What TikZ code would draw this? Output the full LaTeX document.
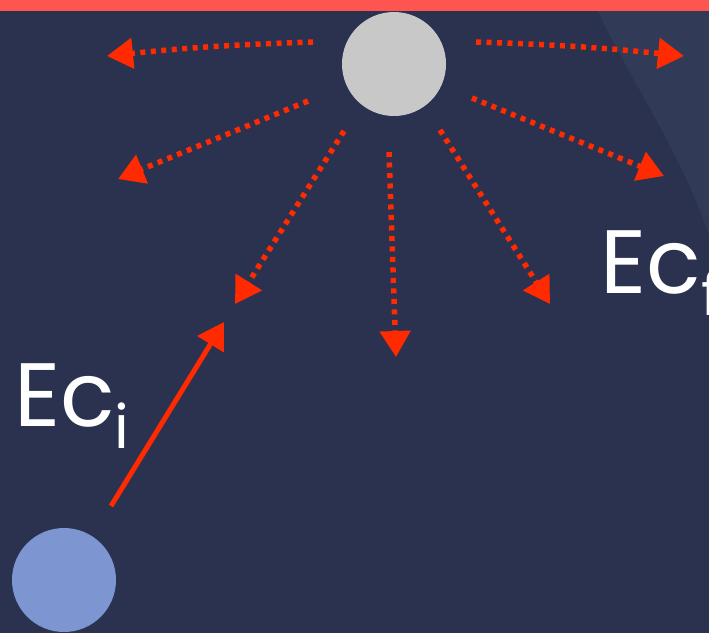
\documentclass[tikz,border=0pt]{standalone}
\usepackage{fontspec}
\setmainfont{Poppins}
\usetikzlibrary{arrows.meta}
\definecolor{bg}{HTML}{2A3250}
\definecolor{bglight}{HTML}{313A57}
\definecolor{barred}{HTML}{FF5550}
\definecolor{arrred}{HTML}{FF2A00}
\definecolor{graydisk}{HTML}{C8C8C8}
\definecolor{bluedisk}{HTML}{7D95D1}
\tikzset{
  disk/.style={circle,minimum size=104pt,inner sep=0pt,draw=none},
  dotarrow/.style={draw=arrred,line width=5.5pt,dash pattern=on 5pt off 5.5pt,
    -{Triangle[length=26pt,width=30pt,fill=arrred]}},
  solidarrow/.style={draw=arrred,line width=5pt,
    -{Triangle[length=26pt,width=30pt,fill=arrred]}},
  label/.style={text=white,font=\fontsize{90}{90}\selectfont,inner sep=0pt,anchor=base west}
}
\begin{document}
\begin{tikzpicture}[x=1pt,y=-1pt]
\useasboundingbox (0,0) rectangle (709,633);
\fill[bg] (0,0) rectangle (709,633);
\fill[bglight] (598,11) .. controls (630,80) and (680,150) .. (709,235) -- (709,11) -- cycle;
\fill[barred] (0,0) rectangle (709,11);
\node[disk,fill=graydisk] (g) at (394,64) {};
\node[disk,fill=bluedisk] (b) at (64,580) {};
% dotted arrows
\coordinate (s1) at (313,42); \coordinate (t1) at (107,56);
\coordinate (s2) at (476,42); \coordinate (t2) at (684,56);
\coordinate (s3) at (308,101); \coordinate (t3) at (118,179);
\coordinate (s4) at (472,98); \coordinate (t4) at (664,176);
\coordinate (s5) at (344,131); \coordinate (t5) at (235,304);
\coordinate (s6) at (389,152); \coordinate (t6) at (396,357);
\coordinate (s7) at (440,130); \coordinate (t7) at (550,304);
\draw[dotarrow] (s1) to[bend right=2] (t1);
\draw[dotarrow] (s2) to[bend left=2] (t2);
\draw[dotarrow] (s3) -- (t3);
\draw[dotarrow] (s4) -- (t4);
\draw[dotarrow] (s5) -- (t5);
\draw[dotarrow] (s6) -- (t6);
\draw[dotarrow] (s7) -- (t7);
% solid arrow
\coordinate (s0) at (111,506); \coordinate (t0) at (224,322);
\draw[solidarrow] (s0) -- (t0);
\node[label] (eci) at (14,426) {Ec\raisebox{-0.25em}{\fontsize{60}{60}\selectfont i}};
\node[label] (ecf) at (600,293) {Ec\raisebox{-0.25em}{\fontsize{60}{60}\selectfont f}};
\end{tikzpicture}
\end{document}
